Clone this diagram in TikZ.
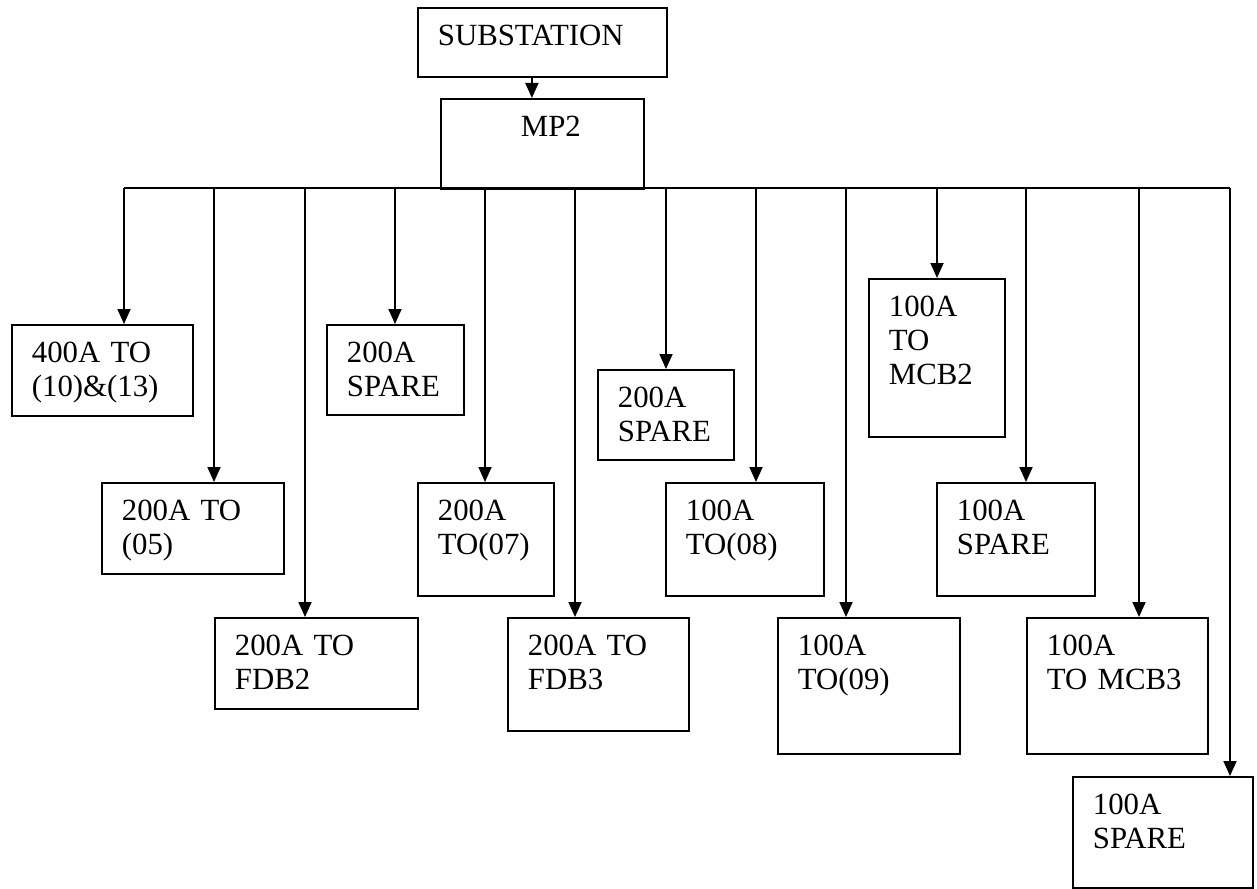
\documentclass[tikz,border=0pt]{standalone}
\usepackage{fontspec}
\setmainfont{Liberation Serif}
\usetikzlibrary{arrows.meta}

\begin{document}
\begin{tikzpicture}[x=0.5pt, y=-0.5pt, line width=0.9pt,
    unit/.style 2 args={draw, anchor=north west, align=left,
      inner xsep=10pt, inner ysep=0pt,
      text width=#1*0.5pt-20pt, text height=19pt, text depth=#2*0.5pt-19pt,
      font=\fontsize{15.4}{17}\selectfont},
    feed/.style={-{Triangle[length=7.5pt, width=6.5pt]}}]
  \useasboundingbox (0,0) rectangle (1257,888);
  % supply
  \node[unit={249}{69}] (sub) at (417,7) {SUBSTATION};
  \node[unit={203}{90}, inner xsep=40pt, text width=21.5pt] (mp) at (440,98) {MP2};
  \draw[feed] ([xshift=-5.25pt]sub.south) -- ([xshift=-5.25pt]sub.south |- mp.north);
  % outgoing ways
  \node[unit={181}{91}]  (f1)  at (11,324)   {400A TO\\(10)\&(13)};
  \node[unit={182}{91}]  (f2)  at (101,482)  {200A TO\\(05)};
  \node[unit={203}{91}]  (f3)  at (214,617)  {200A TO\\FDB2};
  \node[unit={137}{90}]  (f4)  at (326,324)  {200A\\SPARE};
  \node[unit={136}{113}] (f5)  at (417,482)  {200A\\TO(07)};
  \node[unit={181}{113}] (f6)  at (507,617)  {200A TO\\FDB3};
  \node[unit={136}{90}]  (f7)  at (597,369)  {200A\\SPARE};
  \node[unit={158}{113}] (f8)  at (665,482)  {100A\\TO(08)};
  \node[unit={182}{136}] (f9)  at (777,617)  {100A\\TO(09)};
  \node[unit={136}{158}] (f10) at (868,278)  {100A\\TO\\MCB2};
  \node[unit={158}{113}] (f11) at (936,482)  {100A\\SPARE};
  \node[unit={181}{136}] (f12) at (1026,617) {100A\\TO MCB3};
  \node[unit={180}{111}] (f13) at (1072,776) {100A\\SPARE};
  % bus and drops
  \foreach \x [count=\i] in {124,214,305,395,485,575,666,756,846,937,1026,1139,1230}
    \coordinate (tap\i) at (\x,188);
  \draw (tap1) -- (tap13);
  \foreach \i in {1,...,13}
    \draw[feed] (tap\i) -- (tap\i |- f\i.north);
\end{tikzpicture}
\end{document}
